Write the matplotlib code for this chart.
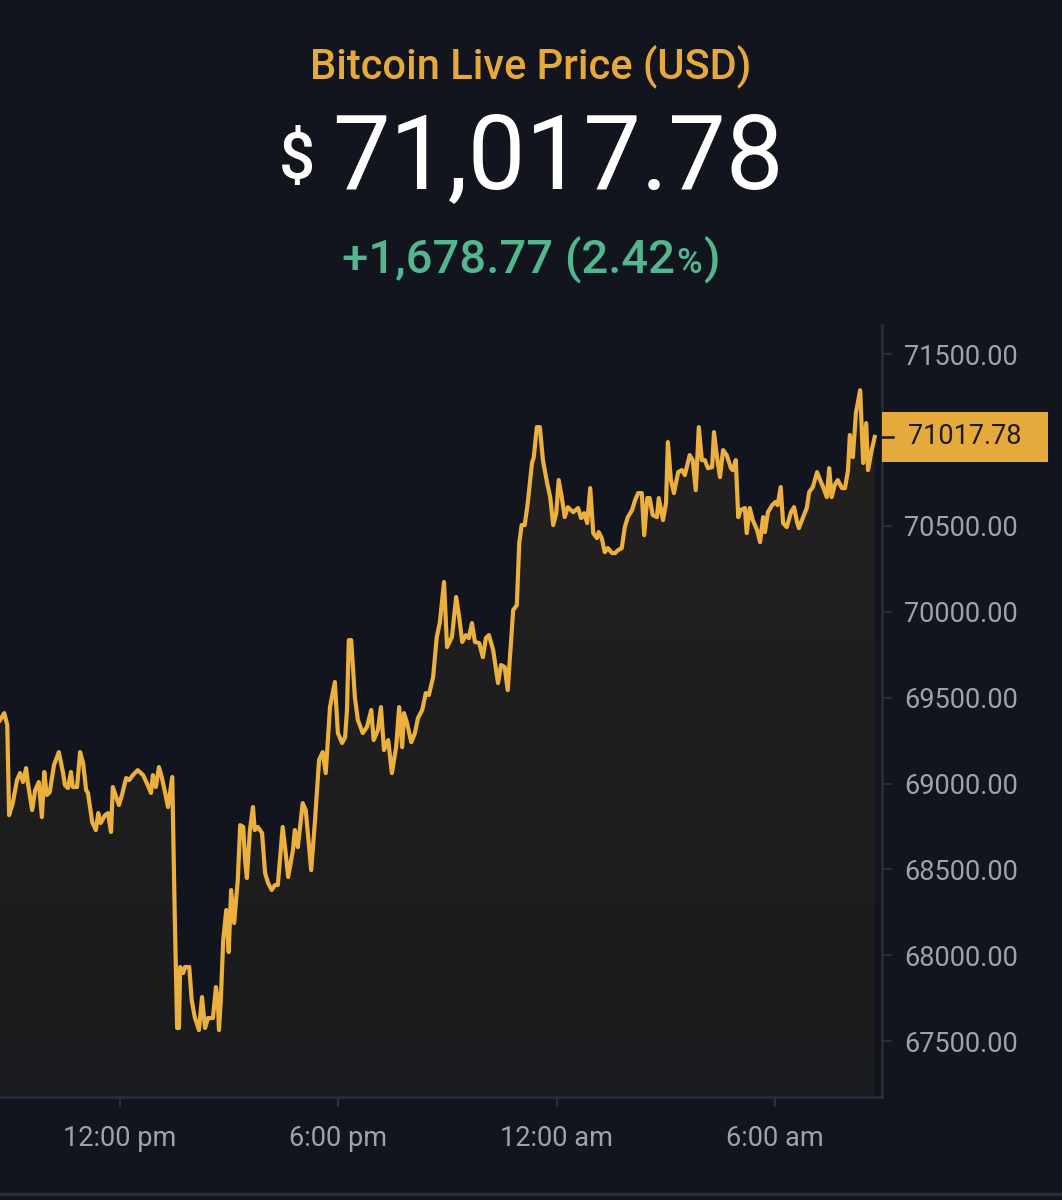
#!/usr/bin/env python3
# Bitcoin live price, 24h chart (dark theme)
import numpy as np
import matplotlib
matplotlib.use("Agg")
import matplotlib.pyplot as plt
from matplotlib.patches import Rectangle
from matplotlib.lines import Line2D
from matplotlib.offsetbox import TextArea, HPacker, AnnotationBbox
import matplotlib.transforms as mtransforms

# Data: minutes since 08:42 am, price in USD
minutes = [
    0, 7, 12, 15, 21, 28, 33, 38, 43, 46, 53, 58, 64, 69, 73, 77, 82, 89, 97, 104,
    107, 112, 117, 120, 127, 132, 137, 142, 145, 152, 158, 162, 166, 173, 178, 183, 186, 196, 201, 208,
    213, 219, 227, 236, 242, 249, 252, 257, 262, 267, 272, 277, 284, 285, 288, 292, 295, 297, 302, 305,
    312, 316, 321, 328, 333, 338, 343, 351, 356, 359, 361, 364, 368, 373, 377, 381, 386, 392, 396, 401,
    404, 407, 412, 417, 420, 425, 432, 437, 442, 448, 453, 458, 466, 471, 475, 483,
    486, 491, 499, 504, 513, 519, 526, 532, 537, 544, 552, 557, 564, 569, 572, 575, 579, 585, 590, 598,
    605, 612, 616, 623, 628, 633, 640, 646, 653, 658, 663, 666, 671, 678, 684, 689, 696, 702, 707, 714,
    720, 725, 732, 737, 745, 752, 757, 762, 768, 773, 778, 783, 790, 796, 801, 806, 813, 821, 826, 832,
    837, 846, 852,
    856, 860, 865, 870, 877, 880, 885, 890, 895, 902, 907, 912, 917, 921, 926, 931, 936, 945, 953, 958,
    963, 968, 973, 978, 984, 987, 992, 997, 1002, 1009, 1014, 1019, 1025, 1030, 1035, 1042, 1047, 1052, 1058, 1062,
    1067, 1071, 1076, 1083, 1086, 1093, 1098, 1101, 1106, 1111, 1118, 1124, 1129, 1137, 1142, 1147, 1152,
    1157, 1162, 1167, 1174, 1177, 1182, 1187, 1192, 1198, 1205, 1208, 1213, 1217, 1221, 1228, 1231, 1236, 1241, 1248, 1253,
    1258, 1261, 1266, 1273, 1278, 1282, 1287, 1291, 1297, 1304, 1309, 1314, 1317, 1324, 1330, 1334, 1340, 1347, 1352, 1357,
    1363, 1367, 1371, 1376, 1381, 1388, 1393, 1398, 1401, 1406, 1411, 1418, 1423, 1428, 1431, 1437, 1442,
]
prices = [
    69369, 69410, 69340, 68816, 68886, 69020, 69061, 69009, 69090, 69003, 68846, 68962, 69009, 68805, 69067, 68933, 68950, 69108, 69183, 69061,
    68991, 68974, 69067, 68980, 68980, 69183, 69119, 68962, 68945, 68776, 68729, 68828, 68770, 68816, 68828, 68718, 68980, 68875, 68933, 69032,
    69020, 69049, 69078, 69049, 69003, 68945, 69049, 68980, 69096, 69032, 68950, 68863, 69038, 68828, 68246, 67577, 67577, 67932, 67897, 67932,
    67932, 67740, 67641, 67565, 67757, 67577, 67635, 67635, 67815, 67740, 67565, 67740, 68089, 68264, 68019, 68380, 68188, 68438, 68758, 68747,
    68555, 68450, 68729, 68863, 68729, 68747, 68712, 68479, 68421, 68380, 68409, 68409, 68747, 68595, 68456, 68613,
    68729, 68630, 68886, 68846, 68496, 68770, 69137, 69183, 69061, 69445, 69591, 69294, 69236, 69271, 69428, 69835, 69835, 69503, 69369, 69294,
    69329, 69428, 69253, 69311, 69445, 69195, 69253, 69061, 69212, 69445, 69212, 69410, 69352, 69241, 69294, 69381, 69428, 69527, 69515, 69620,
    69853, 69934, 70173, 69794, 69853, 70086, 69969, 69824, 69864, 69847, 69934, 69824, 69818, 69736, 69847, 69864, 69777, 69585, 69690, 69678,
    69544, 70010, 70039,
    70400, 70505, 70505, 70633, 70866, 70900, 71075, 71075, 70883, 70749, 70668, 70505, 70574, 70767, 70668, 70551, 70609, 70580, 70604, 70545,
    70574, 70516, 70720, 70458, 70429, 70464, 70429, 70347, 70371, 70342, 70342, 70359, 70371, 70493, 70551, 70592, 70650, 70691, 70691, 70446,
    70662, 70662, 70563, 70551, 70662, 70534, 70633, 70988, 70767, 70691, 70813, 70825, 70796, 70912, 70883, 70708, 71075,
    70883, 70883, 70836, 70842, 71046, 70900, 70784, 70941, 70912, 70836, 70825, 70883, 70551, 70592, 70604, 70458, 70604, 70534, 70476, 70406,
    70551, 70464, 70580, 70621, 70639, 70621, 70726, 70516, 70493, 70580, 70609, 70522, 70487, 70551, 70604, 70697, 70726, 70813, 70767, 70726,
    70668, 70836, 70668, 70737, 70767, 70720, 70720, 70825, 71029, 70900, 71157, 71290, 70866, 71098, 70825, 70941, 71017.78,
]
assert len(minutes) == len(prices)

start_clock = 8 * 60 + 42          # 08:42 am
tick_clock = [12 * 60, 18 * 60, 24 * 60, 30 * 60]
tick_labels = ["12:00 pm", "6:00 pm", "12:00 am", "6:00 am"]
# 71000 sits under the price tag, so it is not listed
y_ticks = [67500, 68000, 68500, 69000, 69500, 70000, 70500, 71500]

last_price = prices[-1]
change = 1678.77
change_pct = 2.42

# Colors
bg = "#12151d"
orange = "#ecb03e"
title_orange = "#e6a93c"
green = "#52b68e"
axis_col = "#2a2e3a"
label_col = "#9ea3ab"

plt.rcParams["font.family"] = ["Roboto", "DejaVu Sans"]

fig = plt.figure(figsize=(10.62, 12), dpi=100, facecolor=bg)
ax = fig.add_axes([0.0, 0.0858, 0.8305, 0.6433], facecolor=bg)

x = np.array(minutes, dtype=float)
y = np.array(prices, dtype=float)

ax.set_xlim(0, 1454)
ax.set_ylim(67175, 71669)
ymin, ymax = ax.get_ylim()

# gradient fill under the line
grad = np.zeros((100, 1, 4))
grad[:, 0, 0:3] = matplotlib.colors.to_rgb(orange)
grad[:, 0, 3] = np.linspace(0.085, 0.04, 100)
im = ax.imshow(grad, aspect="auto", extent=[0, 1454, ymin, ymax], origin="upper", zorder=1)
poly = ax.fill_between(x, y, ymin, color="none", lw=0)
im.set_clip_path(poly.get_paths()[0], transform=ax.transData)

ax.plot(x, y, color=orange, lw=3.0, zorder=3)

# axes styling
for s in ["top", "left"]:
    ax.spines[s].set_visible(False)
for s in ["right", "bottom"]:
    ax.spines[s].set_color(axis_col)
    ax.spines[s].set_linewidth(1.8)

ax.yaxis.tick_right()
ax.set_yticks(y_ticks)
ax.set_yticklabels([f"{v:.2f}" for v in y_ticks])
ax.set_xticks([c - start_clock for c in tick_clock])
ax.set_xticklabels(tick_labels)
ax.tick_params(axis="y", direction="out", length=7, width=1.5, color=axis_col,
               labelcolor=label_col, labelsize=19.5, pad=9)
ax.tick_params(axis="x", direction="out", length=7, width=1.5, color=axis_col,
               labelcolor=label_col, labelsize=19.5, pad=13)

# last price tag on the axis
px_h = ax.get_position().height * fig.get_figheight() * fig.dpi
px_w = ax.get_position().width * fig.get_figwidth() * fig.dpi
dpp = (ymax - ymin) / px_h
blend = mtransforms.blended_transform_factory(ax.transAxes, ax.transData)
tag = Rectangle((1.0, last_price - 25 * dpp), 166 / px_w, 50 * dpp, transform=blend,
                facecolor=title_orange, edgecolor="none", clip_on=False, zorder=5)
ax.add_patch(tag)
ax.add_line(Line2D([1.0, 1.0 + 11 / px_w], [last_price, last_price], transform=blend,
                   color="#1b1b1b", lw=1.8, clip_on=False, zorder=6))
ax.text(1.0 + 26 / px_w, last_price, f"{last_price:.2f}", transform=blend,
        ha="left", va="center", fontsize=19.5, color="#1b1b1b", zorder=6)

# header
fig.text(0.5, 1 - 66 / 1200, "Bitcoin Live Price (USD)", ha="center", va="center",
         fontsize=30, fontweight="medium", color=title_orange)

big = HPacker(children=[
    TextArea("$", textprops=dict(color="white", fontsize=46, fontweight="medium")),
    TextArea(f"{last_price:,.2f}", textprops=dict(color="white", fontsize=74)),
], align="center", pad=0, sep=12)
fig.add_artist(AnnotationBbox(big, (0.5, 1 - 160 / 1200), xycoords="figure fraction",
                              frameon=False, box_alignment=(0.5, 0.5)))

chg = HPacker(children=[
    TextArea(f"+{change:,.2f} ({change_pct:.2f}", textprops=dict(color=green, fontsize=34, fontweight="medium")),
    TextArea("%", textprops=dict(color=green, fontsize=25, fontweight="medium")),
    TextArea(")", textprops=dict(color=green, fontsize=34, fontweight="medium")),
], align="baseline", pad=0, sep=1)
fig.add_artist(AnnotationBbox(chg, (0.5, 1 - 260 / 1200), xycoords="figure fraction",
                              frameon=False, box_alignment=(0.5, 0.5)))

# bottom separator line
fig.add_artist(Line2D([0, 1], [1 - 1194 / 1200, 1 - 1194 / 1200], transform=fig.transFigure,
                      color=axis_col, lw=2.5))

fig.savefig("out.png", dpi=100, facecolor=bg)
